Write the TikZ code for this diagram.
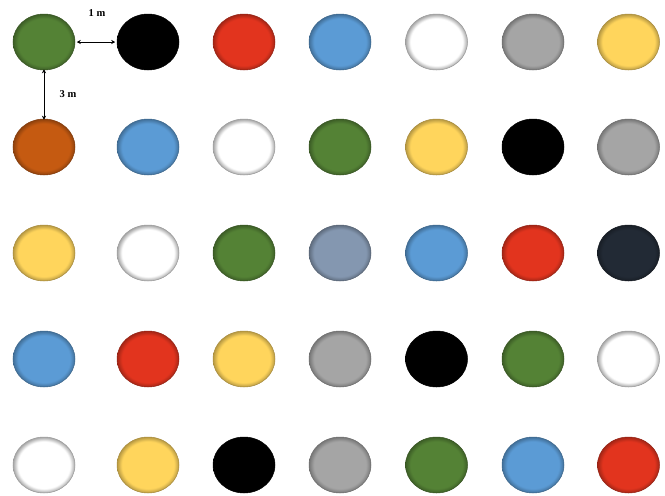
\documentclass[tikz,border=0pt]{standalone}
\usepackage{fontspec}
\setmainfont{Liberation Serif}
\usetikzlibrary{shapes.geometric,arrows.meta}
\definecolor{cgreen}{HTML}{548235}
\definecolor{cblack}{HTML}{000000}
\definecolor{cred}{HTML}{E2341E}
\definecolor{cblue}{HTML}{5B9BD5}
\definecolor{cwhite}{HTML}{FFFFFF}
\definecolor{cgray}{HTML}{A5A5A5}
\definecolor{cyellow}{HTML}{FFD55C}
\definecolor{corange}{HTML}{C55A11}
\definecolor{cgblue}{HTML}{8497B0}
\definecolor{cdark}{HTML}{222A35}
\colorlet{rimin}{white}
\colorlet{rimout}{gray}
\pgfdeclareradialshading[rimin,rimout]{rim}{\pgfpoint{0bp}{0bp}}{%
  color(0bp)=(rimin); color(21bp)=(rimin); color(25bp)=(rimout); color(50bp)=(rimout)}
\tikzset{
  dot/.style={ellipse, minimum width=62pt, minimum height=56pt, inner sep=0pt,
    /utils/exec={\colorlet{rimin}{#1}\colorlet{rimout}{#1!72!black}},
    shading=rim, draw=#1!65!black, line width=0.5pt},
  whitedot/.style={ellipse, minimum width=62pt, minimum height=56pt, inner sep=0pt,
    /utils/exec={\colorlet{rimin}{white}\colorlet{rimout}{black!35}},
    shading=rim, draw=black!40, line width=0.5pt},
  dim/.style={<->, >={Stealth[length=4pt,width=4pt]}, line width=0.9pt},
  lbl/.style={font=\fontsize{10.5}{12}\selectfont\bfseries, inner sep=0pt}
}
\begin{document}
\begin{tikzpicture}[x=1pt,y=-1pt]
\useasboundingbox (0,0) rectangle (665,496);
\def\xa{44}\def\xb{148}\def\xc{244}\def\xd{340}\def\xe{436.5}\def\xf{533}\def\xg{628.5}
\def\ya{42}\def\yb{147}\def\yc{253}\def\yd{359}\def\ye{465}
% row 1
\node[dot=cgreen]  (r1c1) at (\xa,\ya) {};
\node[dot=cblack]  (r1c2) at (\xb,\ya) {};
\node[dot=cred]    (r1c3) at (\xc,\ya) {};
\node[dot=cblue]   (r1c4) at (\xd,\ya) {};
\node[whitedot]    (r1c5) at (\xe,\ya) {};
\node[dot=cgray]   (r1c6) at (\xf,\ya) {};
\node[dot=cyellow] (r1c7) at (\xg,\ya) {};
% row 2
\node[dot=corange] (r2c1) at (\xa,\yb) {};
\node[dot=cblue]   (r2c2) at (\xb,\yb) {};
\node[whitedot]    (r2c3) at (\xc,\yb) {};
\node[dot=cgreen]  (r2c4) at (\xd,\yb) {};
\node[dot=cyellow] (r2c5) at (\xe,\yb) {};
\node[dot=cblack]  (r2c6) at (\xf,\yb) {};
\node[dot=cgray]   (r2c7) at (\xg,\yb) {};
% row 3
\node[dot=cyellow] (r3c1) at (\xa,\yc) {};
\node[whitedot]    (r3c2) at (\xb,\yc) {};
\node[dot=cgreen]  (r3c3) at (\xc,\yc) {};
\node[dot=cgblue]  (r3c4) at (\xd,\yc) {};
\node[dot=cblue]   (r3c5) at (\xe,\yc) {};
\node[dot=cred]    (r3c6) at (\xf,\yc) {};
\node[dot=cdark]   (r3c7) at (\xg,\yc) {};
% row 4
\node[dot=cblue]   (r4c1) at (\xa,\yd) {};
\node[dot=cred]    (r4c2) at (\xb,\yd) {};
\node[dot=cyellow] (r4c3) at (\xc,\yd) {};
\node[dot=cgray]   (r4c4) at (\xd,\yd) {};
\node[dot=cblack]  (r4c5) at (\xe,\yd) {};
\node[dot=cgreen]  (r4c6) at (\xf,\yd) {};
\node[whitedot]    (r4c7) at (\xg,\yd) {};
% row 5
\node[whitedot]    (r5c1) at (\xa,\ye) {};
\node[dot=cyellow] (r5c2) at (\xb,\ye) {};
\node[dot=cblack]  (r5c3) at (\xc,\ye) {};
\node[dot=cgray]   (r5c4) at (\xd,\ye) {};
\node[dot=cgreen]  (r5c5) at (\xe,\ye) {};
\node[dot=cblue]   (r5c6) at (\xf,\ye) {};
\node[dot=cred]    (r5c7) at (\xg,\ye) {};
% dimensions
\draw[dim] ([xshift=1.5pt]r1c1.east) -- ([xshift=-1.5pt]r1c2.west);
\draw[dim] ([yshift=1pt]r1c1.south) -- ([yshift=-1pt]r2c1.north);
\node[lbl] (l1) at (97,13) {1 m};
\node[lbl] (l3) at (68,94) {3 m};
\end{tikzpicture}
\end{document}
